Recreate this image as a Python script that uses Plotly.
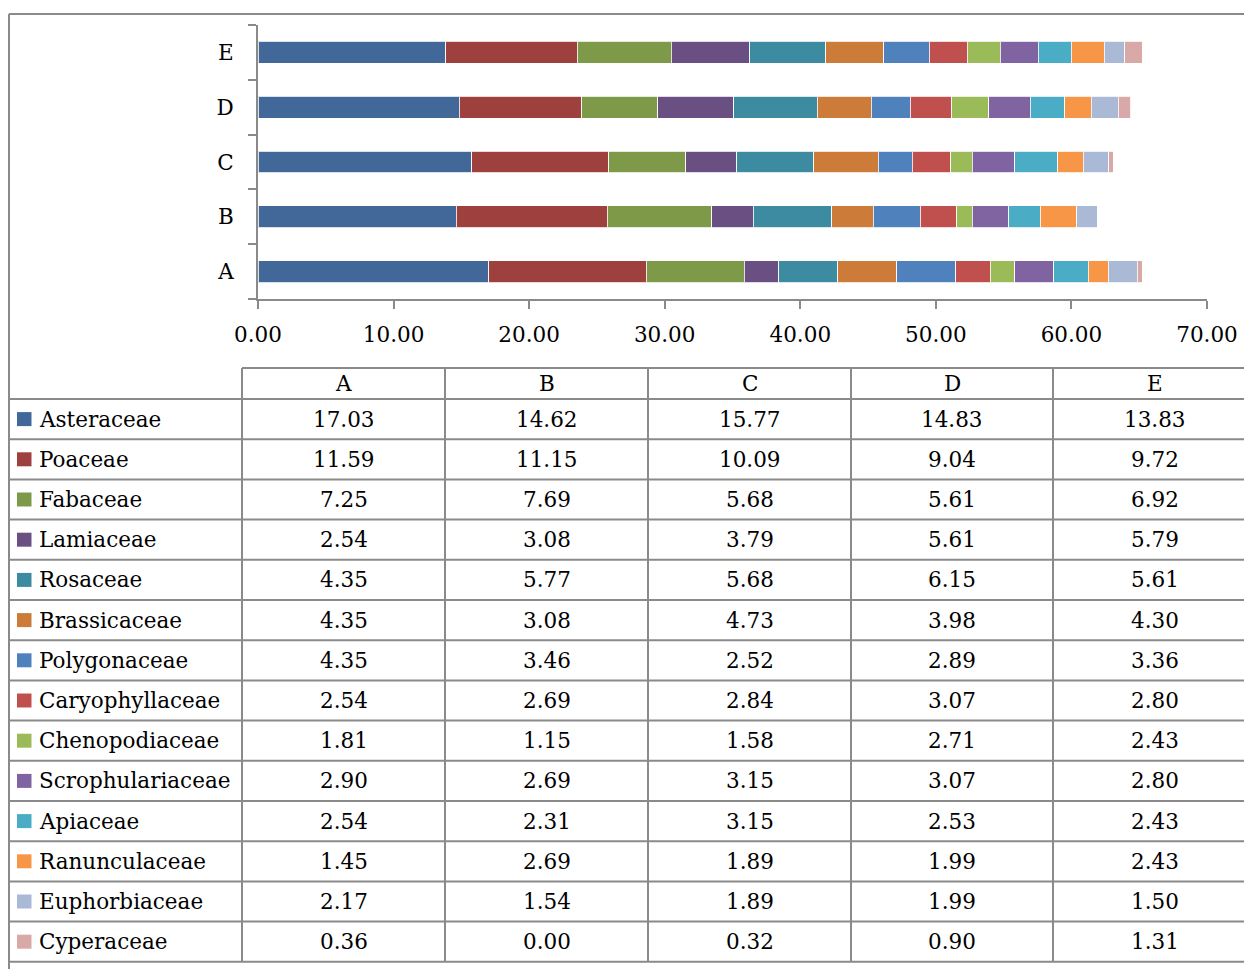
import plotly.graph_objects as go

# groups (bars / table columns)
groups = ['A', 'B', 'C', 'D', 'E']

# plant families, bottom of the stack first
families = ['Asteraceae', 'Poaceae', 'Fabaceae', 'Lamiaceae', 'Rosaceae', 'Brassicaceae',
            'Polygonaceae', 'Caryophyllaceae', 'Chenopodiaceae', 'Scrophulariaceae',
            'Apiaceae', 'Ranunculaceae', 'Euphorbiaceae', 'Cyperaceae']

# percentage of each family, one list per group (same order as families)
values_A = [17.03, 11.59, 7.25, 2.54, 4.35, 4.35, 4.35, 2.54, 1.81, 2.90, 2.54, 1.45, 2.17, 0.36]
values_B = [14.62, 11.15, 7.69, 3.08, 5.77, 3.08, 3.46, 2.69, 1.15, 2.69, 2.31, 2.69, 1.54, 0.00]
values_C = [15.77, 10.09, 5.68, 3.79, 5.68, 4.73, 2.52, 2.84, 1.58, 3.15, 3.15, 1.89, 1.89, 0.32]
values_D = [14.83, 9.04, 5.61, 5.61, 6.15, 3.98, 2.89, 3.07, 2.71, 3.07, 2.53, 1.99, 1.99, 0.90]
values_E = [13.83, 9.72, 6.92, 5.79, 5.61, 4.30, 3.36, 2.80, 2.43, 2.80, 2.43, 2.43, 1.50, 1.31]

colors = ['#416899', '#9E413E', '#7E9A48', '#6A5082', '#3D8BA0', '#CC7B38',
          '#4F81BD', '#C0504D', '#9BBB59', '#8064A2', '#4BACC6', '#F79646',
          '#A9B9D6', '#D9A9A8']

W, H = 1244, 969
FONT = 'DejaVu Serif'
GREY = '#8A8A8A'


def px(x):
    return x / W


def py(y):
    return 1 - y / H


columns = [values_A, values_B, values_C, values_D, values_E]

fig = go.Figure()
for i, fam in enumerate(families):
    fig.add_trace(go.Bar(
        y=groups, x=[col[i] for col in columns], orientation='h', name=fam,
        width=0.4, marker=dict(color=colors[i], line=dict(color='rgba(255,255,255,0.8)', width=1)),
    ))

fig.update_layout(
    width=W, height=H, barmode='stack', showlegend=False,
    margin=dict(l=0, r=0, t=0, b=0, autoexpand=False),
    plot_bgcolor='white', paper_bgcolor='white',
    font=dict(family=FONT, size=21.5, color='black'),
    xaxis=dict(domain=[px(258), px(1207)], range=[0, 70], dtick=10, tickformat='.2f',
               showgrid=False, zeroline=False, showline=True, linecolor=GREY, linewidth=2,
               ticks='outside', ticklen=8, tickwidth=2, tickcolor=GREY, ticklabelstandoff=7,
               automargin=False),
    yaxis=dict(domain=[py(299), py(25)], range=[-0.5, 4.5], anchor='x',
               showgrid=False, zeroline=False, showline=True, linecolor=GREY, linewidth=2,
               ticks='outside', ticklen=8, tickwidth=2, tickcolor=GREY, tickson='boundaries',
               ticklabelstandoff=18, automargin=False),
)

shapes = []
annots = []


def hline(y, x0, x1):
    shapes.append(dict(type='line', xref='paper', yref='paper', x0=px(x0), x1=px(x1),
                       y0=py(y), y1=py(y), line=dict(color=GREY, width=2)))


def vline(x, y0, y1):
    shapes.append(dict(type='line', xref='paper', yref='paper', x0=px(x), x1=px(x),
                       y0=py(y0), y1=py(y1), line=dict(color=GREY, width=2)))


def label(x, y, text, anchor='center'):
    annots.append(dict(xref='paper', yref='paper', x=px(x), y=py(y), text=text,
                       showarrow=False, xanchor=anchor, yanchor='middle'))


# outer chart frame
hline(14, 9, W + 20)
vline(9, 14, H + 20)

# data table
col_edges = [9, 242, 445, 648, 851, 1053, 1256]
table_top, header_bottom, row_h = 368, 399, 40.2
row_edges = [header_bottom + k * row_h for k in range(len(families) + 1)]

hline(table_top, col_edges[1], W + 20)
for y in row_edges:
    hline(y, col_edges[0], W + 20)
for x in col_edges[1:-1]:
    vline(x, table_top, row_edges[-1])

for j, g in enumerate(groups):
    cx = (col_edges[j + 1] + col_edges[j + 2]) / 2
    label(cx, (table_top + header_bottom) / 2, g)

for i, fam in enumerate(families):
    cy = (row_edges[i] + row_edges[i + 1]) / 2
    shapes.append(dict(type='rect', xref='paper', yref='paper', x0=px(17), x1=px(31.5),
                       y0=py(cy - 7), y1=py(cy + 7), fillcolor=colors[i], line=dict(width=0)))
    label(37, cy, fam, anchor='left')
    for j, col in enumerate(columns):
        cx = (col_edges[j + 1] + col_edges[j + 2]) / 2
        label(cx, cy, f'{col[i]:.2f}')

fig.update_layout(shapes=shapes, annotations=annots)

# drop the default page margin so the figure fills the window exactly
fig.write_html('out.html', config={'displayModeBar': False},
               post_script="document.body.style.margin='0';document.body.style.overflow='hidden';")
